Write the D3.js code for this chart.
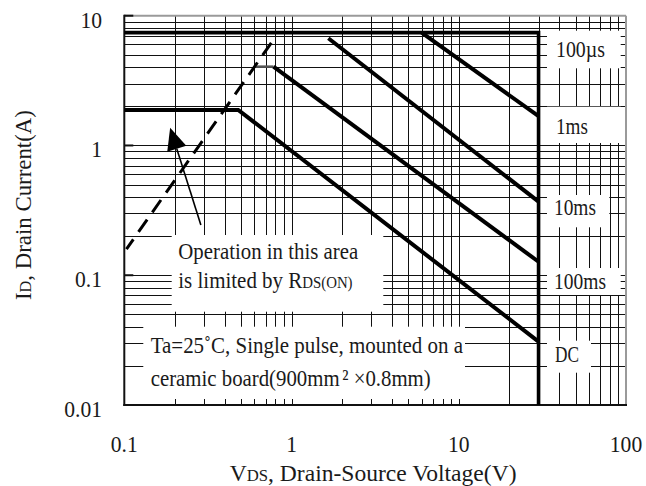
<!DOCTYPE html>
<html><head><meta charset="utf-8">
<script src="https://cdn.jsdelivr.net/npm/d3@7"></script>
<style>
body{margin:0;background:#fff}
svg{display:block}
text{font-family:"Liberation Serif","Times New Roman",serif;fill:#1a1a1a}
</style>
</head><body>
<svg id="chart" width="646" height="486"></svg>
<script>
// ---------- data ----------
const xTickValues = [0.1, 1, 10, 100];
const xTickLabels = ["0.1", "1", "10", "100"];
const yTickValues = [0.01, 0.1, 1, 10];
const yTickLabels = ["0.01", "0.1", "1", "10"];

const seriesNames = ["100µs", "1ms", "10ms", "100ms", "DC"];
// V (drain-source voltage) and I (drain current) of each SOA limit line
const seriesV = [
  [0.1, 30, 30],
  [6.0, 30],
  [1.66, 30],
  [0.605, 0.78, 30],
  [0.1, 0.48, 30]
];
const seriesI = [
  [7.4, 7.4, 0.01],
  [7.4, 1.68],
  [6.7, 0.369],
  [4.05, 4.05, 0.127],
  [1.88, 1.88, 0.0308]
];
// RDS(on) limit (dashed)
const rdsV = [0.103, 0.778];
const rdsI = [0.159, 6.5];
// arrow (tail -> head) in data units
const arrowV = [0.287, 0.188];
const arrowI = [0.244, 1.37];

const noteLines1 = ["Operation in this area", "is limited by R"];
const noteLines2 = ["Ta=25˚C, Single pulse, mounted on a", "ceramic board(900mm", "²", " ×0.8mm)"];

// ---------- layout ----------
const L = 124.3, R = 626, T = 15.7, B = 405;
const svg = d3.select("#chart");
const x = d3.scaleLog().domain([0.1, 100]).range([L, R]);
const y = d3.scaleLog().domain([0.01, 10]).range([B, T]);

function fitText(parent, opts) {
  const g = parent.append("g");
  const t = g.append("text").attr("x", 0).attr("y", 0);
  opts.parts.forEach(p => {
    const ts = t.append("tspan").text(p.t).attr("font-size", p.size);
    if (p.dx) ts.attr("dx", p.dx);
  });
  const w = t.node().getComputedTextLength();
  const s = opts.width ? opts.width / w : (opts.sx || 1);
  const fw = w * s;
  let off = 0;
  if (opts.anchor === "middle") off = -fw / 2;
  if (opts.anchor === "end") off = -fw;
  const rot = opts.rotate ? ` rotate(${opts.rotate})` : "";
  g.attr("transform", `translate(${opts.x},${opts.y})${rot} translate(${off},0) scale(${s},1)`);
  return g;
}

// ---------- grid ----------
const minorX = [];
for (let d = 0.1; d < 100; d *= 10) for (let k = 1; k <= 9; k++) minorX.push(+(d * k).toPrecision(3));
const minorY = [];
for (let d = 0.01; d < 10; d *= 10) for (let k = 1; k <= 9; k++) minorY.push(+(d * k).toPrecision(3));

const grid = svg.append("g").attr("stroke", "#111").attr("stroke-width", 1).attr("shape-rendering", "crispEdges");
grid.selectAll(".gx").data(minorX.filter(v => v > 0.1)).enter().append("line")
  .attr("x1", d => Math.round(x(d)) + 0.5).attr("x2", d => Math.round(x(d)) + 0.5)
  .attr("y1", T).attr("y2", B);
grid.selectAll(".gy").data(minorY.filter(v => v > 0.01)).enter().append("line")
  .attr("y1", d => Math.round(y(d)) + 0.5).attr("y2", d => Math.round(y(d)) + 0.5)
  .attr("x1", L).attr("x2", R);

// ---------- white label boxes ----------
const boxes = [
  [171.7, 235, 383.3, 311.7],
  [143.3, 326.7, 465, 399],
  [547, 30.7, 620.7, 68.3],
  [547, 106.7, 620.7, 143],
  [547, 195, 609.3, 227.3],
  [547, 268, 620.7, 295],
  [547, 340.7, 591, 372.7]
];
svg.append("g").selectAll("rect").data(boxes).enter().append("rect")
  .attr("x", d => d[0]).attr("y", d => d[1])
  .attr("width", d => d[2] - d[0]).attr("height", d => d[3] - d[1])
  .attr("fill", "#fff");

// ---------- frame ----------
svg.append("line").attr("x1", L).attr("x2", R).attr("y1", T).attr("y2", T).attr("stroke", "#9a9a9a").attr("stroke-width", 2);
svg.append("line").attr("x1", R).attr("x2", R).attr("y1", T).attr("y2", B).attr("stroke", "#9a9a9a").attr("stroke-width", 2);
svg.append("line").attr("x1", L).attr("x2", L).attr("y1", T - 1).attr("y2", B + 1).attr("stroke", "#111").attr("stroke-width", 2);
svg.append("line").attr("x1", L - 1).attr("x2", R + 1).attr("y1", B).attr("y2", B).attr("stroke", "#111").attr("stroke-width", 2);
svg.append("g").selectAll("line").data(yTickValues).enter().append("line")
  .attr("x1", L).attr("x2", L + 9).attr("y1", d => y(d)).attr("y2", d => y(d))
  .attr("stroke", "#111").attr("stroke-width", 2);

// ---------- curves ----------
const line = d3.line().x(d => x(d[0])).y(d => y(d[1]));
seriesNames.forEach((name, i) => {
  const pts = seriesV[i].map((v, j) => [v, seriesI[i][j]]);
  if (name === "100ms") {
    svg.append("path").attr("d", line(pts.slice(0, 2))).attr("fill", "none")
      .attr("stroke", "#555").attr("stroke-width", 2.5);
    svg.append("path").attr("d", line(pts.slice(1))).attr("fill", "none")
      .attr("stroke", "#000").attr("stroke-width", 4);
  } else {
    svg.append("path").attr("d", line(pts)).attr("fill", "none")
      .attr("stroke", "#000").attr("stroke-width", name === "100µs" ? 3.6 : 4)
      .attr("stroke-linejoin", "miter");
  }
});
svg.append("path").attr("d", line(rdsV.map((v, j) => [v, rdsI[j]])))
  .attr("fill", "none").attr("stroke", "#000").attr("stroke-width", 3)
  .attr("stroke-dasharray", "15,9").attr("stroke-dashoffset", 3);

// arrow
const ax0 = x(arrowV[0]), ay0 = y(arrowI[0]), ax1 = x(arrowV[1]), ay1 = y(arrowI[1]);
const ang = Math.atan2(ay1 - ay0, ax1 - ax0);
const headLen = 22, headW = 10;
const bx = ax1 - headLen * Math.cos(ang), by = ay1 - headLen * Math.sin(ang);
svg.append("line").attr("x1", ax0).attr("y1", ay0).attr("x2", bx).attr("y2", by)
  .attr("stroke", "#000").attr("stroke-width", 1.6);
svg.append("path").attr("d", d3.line()([
  [ax1, ay1],
  [bx + headW * Math.sin(ang), by - headW * Math.cos(ang)],
  [bx - headW * Math.sin(ang), by + headW * Math.cos(ang)]
]) + "Z").attr("fill", "#000");

// ---------- tick labels ----------
xTickValues.forEach((v, i) => {
  fitText(svg, {x: x(v), y: 452, anchor: "middle", sx: 0.9, parts: [{t: xTickLabels[i], size: 24}]});
});
yTickValues.forEach((v, i) => {
  fitText(svg, {x: 102, y: y(v) + 12, anchor: "end", sx: 0.9, parts: [{t: yTickLabels[i], size: 24}]});
});

// ---------- axis titles ----------
fitText(svg, {x: (L + R) / 2 - 2, y: 481, anchor: "middle", width: 287,
  parts: [{t: "V", size: 24}, {t: "DS", size: 17}, {t: ", Drain-Source Voltage(V)", size: 24}]});
fitText(svg, {x: 31, y: 205, anchor: "middle", width: 190, rotate: -90,
  parts: [{t: "I", size: 24}, {t: "D", size: 17}, {t: ", Drain Current(A)", size: 24}]});

// ---------- annotations ----------
fitText(svg, {x: 178.3, y: 259, width: 180, parts: [{t: noteLines1[0], size: 24}]});
fitText(svg, {x: 178.3, y: 287.5, width: 174.4,
  parts: [{t: noteLines1[1], size: 24}, {t: "DS(ON)", size: 17}]});
fitText(svg, {x: 150.7, y: 353, width: 312.6, parts: [{t: noteLines2[0], size: 24}]});
fitText(svg, {x: 150.7, y: 386, width: 277.6,
  parts: [{t: noteLines2[1], size: 24}, {t: noteLines2[2], size: 24, dx: 3}, {t: noteLines2[3], size: 24}]});

// series labels
const labelX = [556, 556, 554, 554, 555];
const labelY = [57, 133.5, 215, 288.5, 362];
const labelW = [49, 32, 42, 52, 24];
seriesNames.forEach((n, i) => {
  fitText(svg, {x: labelX[i], y: labelY[i], width: labelW[i], parts: [{t: n, size: 24}]});
});
</script>
</body></html>
